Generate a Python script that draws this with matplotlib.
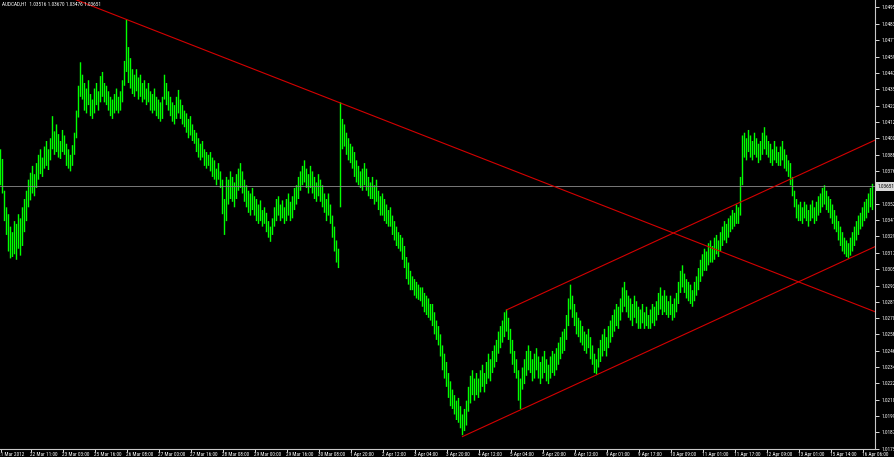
import numpy as np
import matplotlib
matplotlib.use('Agg')
import matplotlib.pyplot as plt
from matplotlib import font_manager as fm
from matplotlib.transforms import ScaledTranslation


def pick_font(names):
    for nm in names:
        try:
            fm.findfont(nm, fallback_to_default=False)
            return nm
        except ValueError:
            pass
    return None


narrow = pick_font(['Liberation Sans Narrow', 'DejaVu Sans Condensed', 'Roboto Condensed'])
if narrow == 'Liberation Sans Narrow':
    fsize = 4.6
elif narrow is not None:
    fsize = 3.8
else:
    narrow = 'DejaVu Sans'
    fsize = 3.6
plt.rcParams['font.family'] = [narrow, 'DejaVu Sans']

symbol = 'AUDCAD,H1'
last_ohlc = [1.03516, 1.03670, 1.03476, 1.03651]

# H1 bar highs / lows, in pips above 1.0000
hi = [392, 385,
      362, 350, 345, 336, 332, 340, 338, 345, 342, 350,
      356, 362, 370, 375, 380, 374,
      382, 388, 392, 386, 394, 398, 392,
      400, 416, 405, 410, 403, 398, 406, 402,
      396, 392, 388, 395, 404,
      420, 438, 455, 446, 440,
      436, 442, 432, 428, 436, 440, 434, 445,
      448, 440, 438, 434, 430,
      428, 432, 436, 430, 434,
      442, 456, 486,
      466, 458, 450, 446,
      450, 444, 446, 440, 442, 436, 440, 434,
      432, 436, 430, 428, 426,
      430, 446, 440, 434, 430, 426, 424,
      430, 435, 428, 424, 420,
      418, 414, 416, 410, 406,
      404, 400, 396, 398, 392, 390, 388,
      390, 386, 384, 378, 382, 376,
      370, 356, 372,
      370, 376, 372, 368, 374, 378, 382, 376, 370,
      366, 362, 360, 364, 358,
      356, 352, 355, 348, 350,
      346, 340, 336, 342,
      350, 356, 358, 352, 355, 350,
      356, 360, 354, 358, 364,
      366, 372, 376, 380, 384, 378, 374, 380,
      376, 372, 368, 374, 370,
      366, 360, 356, 360, 352,
      344, 336, 326, 320,
      426,
      414, 410, 404, 400, 396,
      394, 390, 384, 380, 376,
      378, 382, 378, 372, 368,
      372, 366, 370, 362, 358,
      360, 356, 352, 348, 350,
      344, 340, 336, 332, 330,
      328, 322,
      314, 310, 304, 300,
      298, 296, 294, 292,
      292, 288, 286, 284, 280,
      280, 274, 268, 264,
      258, 250, 244,
      238, 230, 224, 218,
      214, 210, 212, 206,
      200, 204, 210,
      220, 228, 232, 226,
      230, 226, 232, 236, 230,
      238, 244, 240, 246, 250,
      254, 260, 264, 268,
      274, 276, 270,
      262, 254, 246, 240,
      232, 226,
      234, 240, 246, 250,
      246, 240, 244, 248, 242,
      238, 242, 246, 240, 236, 242, 246, 244,
      248, 252, 256, 260, 262,
      272, 284, 294,
      286, 280, 274, 270,
      268, 264, 260, 258, 262,
      256, 250, 244, 240,
      248, 254, 258, 262, 256, 264,
      268, 272, 276, 280, 278,
      284, 292, 296, 290, 286,
      284, 280, 286, 282, 278,
      276, 280, 274, 278, 272, 276, 280, 278,
      282, 288, 292, 286, 290,
      286, 282, 286, 280, 284, 288,
      296, 304, 308, 302, 298, 296,
      294, 290, 296, 300,
      306, 312, 316, 320, 318, 324,
      326, 322, 328, 330, 326,
      332, 336, 340, 338, 342,
      344, 348, 346, 352, 350,
      372, 402,
      404, 400, 406, 402, 398, 404, 400, 396,
      398, 404, 408, 402, 398,
      396, 392, 398, 394, 390,
      394, 398, 392, 388, 384,
      382, 372, 362,
      356, 352, 354, 350, 354,
      352, 348, 352, 355, 350, 354, 358,
      360, 364, 366, 362, 358,
      356, 352, 348, 344,
      340, 336, 332, 328,
      326, 324, 328,
      332, 336, 340, 344,
      346, 350, 354,
      356, 360, 364, 367]

lo = [366, 360,
      340, 330, 318, 313, 314, 316, 312, 320, 315, 322,
      332, 340, 350, 355, 360, 358,
      364, 370, 374, 372, 378, 380, 377,
      384, 392, 388, 390, 386, 385, 390, 388,
      380, 378, 376, 380, 388,
      400, 415, 430, 428, 420,
      418, 424, 416, 414, 418, 424, 420, 426,
      430, 426, 424, 420, 416,
      414, 418, 420, 418, 420,
      426, 438, 448,
      440, 436, 432, 430,
      434, 428, 430, 426, 428, 424, 426, 420,
      418, 420, 416, 414, 412,
      414, 428, 424, 420, 416, 412, 410,
      414, 418, 414, 410, 408,
      404, 400, 402, 398, 396,
      390, 386, 384, 386, 380, 378, 380,
      376, 372, 370, 366, 370, 364,
      345, 330, 340,
      352, 356, 354, 350, 356, 362, 364, 360, 354,
      350, 346, 344, 348, 344,
      340, 338, 340, 336, 338,
      332, 328, 325, 330,
      336, 340, 344, 340, 342, 338,
      340, 344, 340, 342, 348,
      352, 356, 362, 366, 368, 364, 360, 364,
      360, 356, 354, 358, 354,
      350, 346, 340, 344, 338,
      328, 318, 310, 306,
      350,
      392, 394, 388, 384, 382,
      378, 372, 368, 366, 364,
      362, 366, 362, 358, 356,
      356, 352, 354, 348, 344,
      344, 340, 338, 336, 336,
      330, 326, 322, 320, 318,
      312, 306,
      298, 294, 290, 290,
      286, 284, 283, 282,
      278, 274, 272, 270, 268,
      264, 258, 254, 250,
      242, 232, 226,
      220, 212, 206, 204,
      200, 196, 194, 190,
      185, 188, 192,
      202, 208, 214, 210,
      214, 212, 216, 220, 216,
      222, 226, 224, 230, 234,
      238, 244, 248, 252,
      256, 260, 254,
      244, 236, 230, 226,
      210, 204,
      218, 222, 228, 232,
      230, 224, 226, 232, 226,
      222, 226, 230, 224, 222, 226, 230, 228,
      232, 236, 240, 244, 246,
      254, 264, 276,
      270, 264, 258, 256,
      252, 250, 246, 244, 248,
      240, 236, 230, 229,
      234, 238, 242, 246, 242, 248,
      252, 256, 260, 264, 262,
      268, 274, 278, 274, 270,
      268, 264, 270, 266, 262,
      262, 266, 262, 264, 262, 262, 266, 264,
      268, 272, 276, 272, 274,
      272, 270, 272, 268, 270, 274,
      280, 288, 292, 288, 284, 282,
      280, 278, 282, 286,
      290, 296, 300, 304, 304, 308,
      310, 310, 312, 316, 314,
      318, 322, 326, 324, 328,
      332, 334, 336, 338, 338,
      344, 366,
      386, 384, 390, 386, 384, 388, 386, 382,
      384, 388, 392, 388, 386,
      382, 380, 384, 382, 380,
      380, 384, 378, 376, 372,
      366, 358, 350,
      342, 340, 340, 338, 342,
      340, 336, 340, 342, 338, 340, 344,
      346, 350, 352, 348, 346,
      342, 338, 334, 332,
      326, 322, 318, 316,
      314, 313, 315,
      318, 322, 326, 330,
      334, 336, 340,
      342, 346, 350, 348]

price_ticks = [1.04950, 1.04830, 1.04710, 1.04590, 1.04475, 1.04355, 1.04235,
               1.04120, 1.04000, 1.03880, 1.03765, 1.03525, 1.03410, 1.03290,
               1.03170, 1.03050, 1.02930, 1.02815, 1.02700, 1.02580, 1.02460,
               1.02345, 1.02225, 1.02105, 1.01990, 1.01870, 1.01750]

time_labels = ['21 Mar 2012', '22 Mar 11:00', '23 Mar 03:00', '25 Mar 16:00',
               '26 Mar 08:00', '27 Mar 00:00', '27 Mar 16:00', '28 Mar 08:00',
               '29 Mar 00:00', '29 Mar 16:00', '30 Mar 08:00', '1 Apr 20:00',
               '2 Apr 12:00', '3 Apr 04:00', '3 Apr 20:00', '4 Apr 12:00',
               '5 Apr 04:00', '5 Apr 20:00', '6 Apr 12:00', '9 Apr 01:00',
               '9 Apr 17:00', '10 Apr 09:00', '11 Apr 01:00', '11 Apr 17:00',
               '12 Apr 09:00', '13 Apr 01:00', '15 Apr 14:00', '16 Apr 06:00']

# trendlines: (bar index, price) anchors, drawn as rays to the right
down_line = [(63, 1.04860), (170, 1.04255)]
chan_low = [(231, 1.01840), (424, 1.03127)]
chan_high = [(253, 1.02757), (424, 1.03898)]

assert len(hi) == len(lo), (len(hi), len(lo))
n = len(hi)
highs = 1 + np.array(hi) / 10000.0
lows = 1 + np.array(lo) / 10000.0
bars = np.arange(n)
time_pos = [0] + list(range(15, n, 16))[:len(time_labels) - 1]

fig = plt.figure(figsize=(8.94, 4.57), dpi=100, facecolor='black')
ax = fig.add_axes([0, 8 / 457, 875 / 894, 449 / 457])
ax.set_facecolor('black')

bar_lines = ax.vlines(bars, lows, highs, color='#00ff00', lw=1.0)
bar_lines.set_snap(False)

ax.axhline(last_ohlc[3], color='#8c8c8c', lw=0.6)


def ray(p1, p2, x0, x1):
    k = (p2[1] - p1[1]) / (p2[0] - p1[0])
    return [x0, x1], [p1[1] + k * (x0 - p1[0]), p1[1] + k * (x1 - p1[0])]


xr = n + 1
for line, start in [(down_line, 30), (chan_low, chan_low[0][0]), (chan_high, chan_high[0][0])]:
    xs, ys = ray(line[0], line[1], start, xr)
    ax.plot(xs, ys, color='#d40000', lw=0.8)

# 2 px per bar
ax.set_xlim(-0.25, 437.25)
ax.set_ylim(1.01750, 1.05001)

for s in ['top', 'left']:
    ax.spines[s].set_visible(False)
for s in ['right', 'bottom']:
    ax.spines[s].set_color('#c8c8c8')
    ax.spines[s].set_linewidth(0.8)

ax.yaxis.tick_right()
ax.set_yticks(price_ticks)
ax.set_yticklabels(['%.5f' % v for v in price_ticks])
ax.tick_params(axis='y', colors='white', labelsize=fsize, length=3, width=0.6, pad=1.5)

ax.set_xticks(time_pos)
ax.set_xticklabels(time_labels, ha='left')
ax.tick_params(axis='x', colors='white', labelsize=fsize, length=2, width=0.6, pad=0.2)
first = ax.get_xticklabels()[0]
first.set_transform(first.get_transform() + ScaledTranslation(-3 / 100, 0, fig.dpi_scale_trans))

ax.text(1.003, last_ohlc[3], '%.5f' % last_ohlc[3], transform=ax.get_yaxis_transform(),
        va='center', ha='left', fontsize=fsize, color='black',
        bbox=dict(boxstyle='square,pad=0.3', fc='#d8d8d8', ec='none'))

fig.text(2 / 894, 1 - 2 / 457, symbol + '  ' + ' '.join('%.5f' % v for v in last_ohlc),
         color='white', fontsize=fsize, va='top', ha='left')

fig.savefig('out.png', dpi=100, facecolor='black')
